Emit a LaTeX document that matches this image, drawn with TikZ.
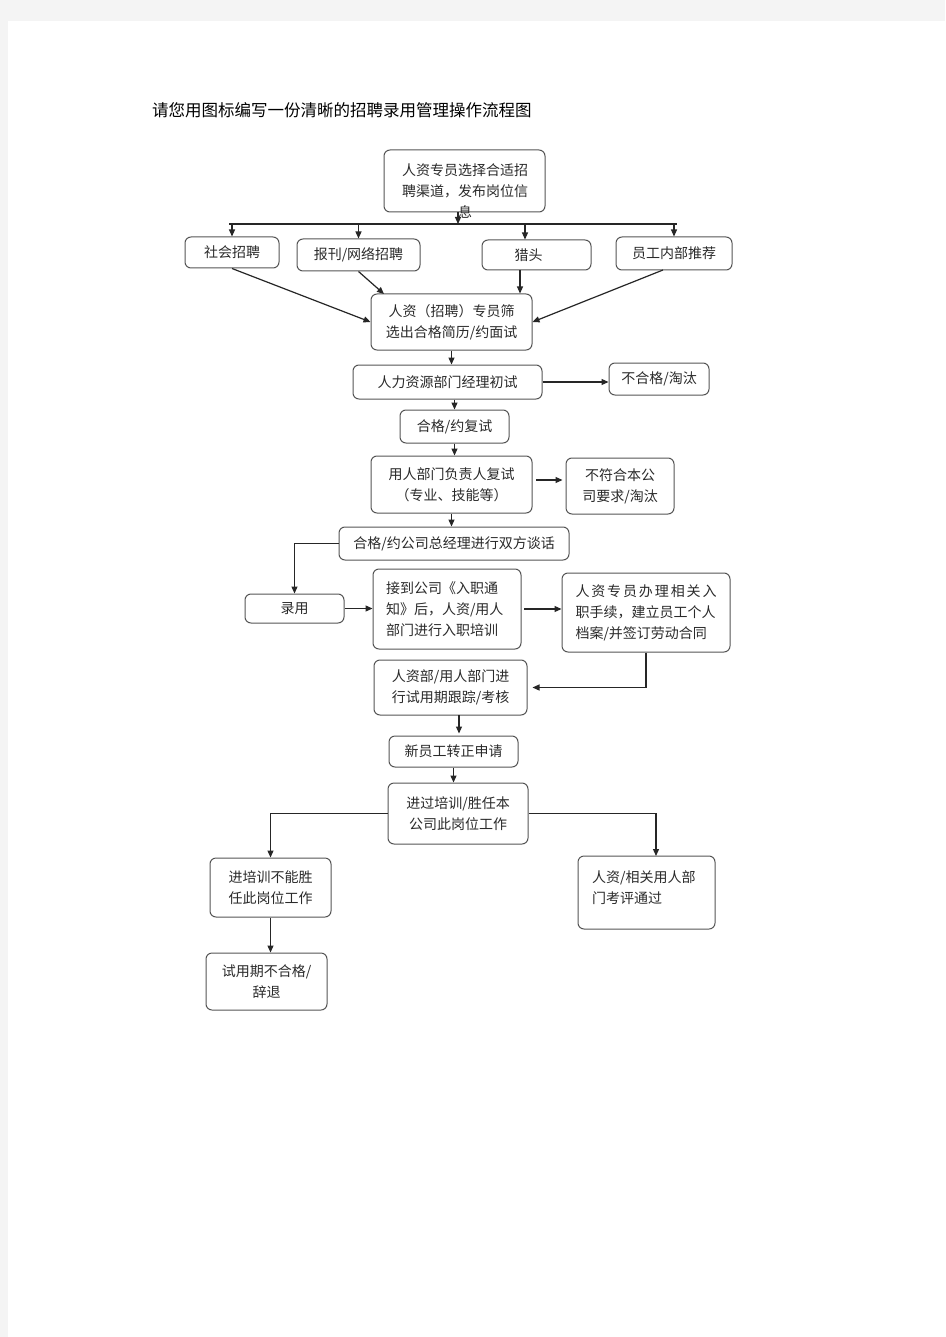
\documentclass[tikz,border=0pt]{standalone}
\usepackage{fontspec}
\setmainfont{Noto Sans CJK SC}
\usetikzlibrary{arrows.meta}
\definecolor{pagegray}{HTML}{F4F4F4}
\definecolor{boxline}{HTML}{555555}
\definecolor{txt}{HTML}{2A2A2A}
\begin{document}
\begin{tikzpicture}[x=1pt,y=-1pt,
  box/.style={draw=boxline, line width=1pt, rounded corners=6pt, inner sep=0pt, align=center, text=txt, font=\fontsize{14}{21}\selectfont},
  sz/.style 2 args={minimum width=#1, minimum height=#2},
  lbl/.style={inner sep=0pt, text=txt, font=\fontsize{14}{21}\selectfont},
  arr/.style={draw=black!85, line width=1.2pt, -{Triangle[length=7pt,width=6pt]}},
  ln/.style={draw=black!85, line width=1.2pt}]
\fill[pagegray] (0,0) rectangle (945,1337);
\fill[white] (8,21) rectangle (945,1337);
\useasboundingbox (0,0) rectangle (945,1337);

\node[anchor=west, inner sep=0pt, font=\fontsize{16.5}{18}\selectfont] (title) at (152,110) {请您用图标编写一份清晰的招聘录用管理操作流程图};

% boxes
\node[box, sz={161pt}{62pt}] (B1) at (464.5,181) {};
\node[lbl, align=center] (B1t) at (465,191) {人资专员选择合适招\\聘渠道，发布岗位信\\息};
\node[box, sz={94pt}{31pt}] (R1) at (232,252.5) {社会招聘};
\node[box, sz={123pt}{32pt}] (R2) at (358.5,255) {报刊/网络招聘};
\node[box, sz={109pt}{30pt}] (R3) at (536.5,255) {\hspace*{-16pt}猎头};
\node[box, sz={116pt}{33pt}] (R4) at (674,253.5) {员工内部推荐};
\node[box, sz={161pt}{56pt}] (B3) at (451.5,322) {人资（招聘）专员筛\\选出合格简历/约面试};
\node[box, sz={189pt}{34pt}] (B4) at (447.5,382) {人力资源部门经理初试};
\node[box, sz={100pt}{32pt}] (N1) at (659,379) {不合格/淘汰};
\node[box, sz={109pt}{33pt}] (B5) at (454.5,426.5) {合格/约复试};
\node[box, sz={161pt}{57pt}] (B6) at (451.5,484.5) {用人部门负责人复试\\（专业、技能等）};
\node[box, sz={108pt}{56pt}] (N2) at (620,486) {不符合本公\\司要求/淘汰};
\node[box, sz={230pt}{33pt}] (B7) at (454,543.5) {合格/约公司总经理进行双方谈话};
\node[box, sz={99pt}{29pt}] (L1) at (294.5,608.5) {录用};
\node[box, sz={148pt}{80pt}, text width=122pt, align=left] (B8) at (447,609) {接到公司《入职通\\知》后，人资/用人\\部门进行入职培训};
\node[box, sz={168pt}{79pt}, text width=141pt, align=left] (B9) at (646,612.5) {\makebox[141pt][s]{人\hfill 资\hfill 专\hfill 员\hfill 办\hfill 理\hfill 相\hfill 关\hfill 入}\\职手续，建立员工个人\\档案/并签订劳动合同};
\node[box, sz={153pt}{55pt}] (B10) at (450.5,687.5) {人资部/用人部门进\\行试用期跟踪/考核};
\node[box, sz={129pt}{31pt}] (B11) at (453.5,751.5) {新员工转正申请};
\node[box, sz={140pt}{61pt}] (B12) at (458,813.5) {进过培训/胜任本\\公司此岗位工作};
\node[box, sz={121pt}{59pt}] (B13) at (270.5,887.5) {进培训不能胜\\任此岗位工作};
\node[box, sz={121pt}{57pt}] (B14) at (266.5,981.5) {试用期不合格/\\辞退};
\node[box, sz={137pt}{73pt}] (B15) at (646.5,892.5) {};
\node[lbl, anchor=north west, align=left] (B15t) at (592,870) {人资/相关用人部\\门考评通过};

% distribution line
\coordinate (hlL) at (229,224);
\coordinate (hlR) at (677,224);
\coordinate (b1o) at (458,212);
\draw[ln] (hlL) -- (hlR);
\draw[arr] (b1o) -- (b1o |- hlL);
\draw[arr] (R1.north |- hlL) -- (R1.north);
\draw[arr] (R2.north |- hlL) -- (R2.north);
\coordinate (r3s) at (525,224);
\draw[arr] (r3s) -- (r3s |- R3.north);
\draw[arr] (R4.north |- hlL) -- (R4.north);

% channels to screening
\coordinate (b3a) at (384,294);
\coordinate (r3b) at (520,270);
\coordinate (r4b) at (663,270);
\draw[arr] (R1.south) -- (B3.west);
\draw[arr] (R2.south) -- (b3a);
\draw[arr] (r3b) -- (r3b |- B3.north);
\draw[arr] (r4b) -- (B3.east);

% main flow
\draw[arr] (B3.south) -- (B3.south |- B4.north);
\draw[arr] (B4.east) -- (N1.west |- B4.east);
\draw[arr] (B5.north |- B4.south) -- (B5.north);
\draw[arr] (B5.south) -- (B5.south |- B6.north);
\coordinate (b6e) at (536,480);
\draw[arr, shorten >=3pt] (b6e) -- (b6e -| N2.west);
\draw[arr] (B6.south) -- (B6.south |- B7.north);
\draw[arr] (B7.west) -- (L1.north |- B7.west) -- (L1.north);
\draw[arr] (L1.east) -- (B8.west |- L1.east);
\coordinate (b8e) at (524,609);
\draw[arr] (b8e) -- (b8e -| B9.west);
\draw[arr, shorten >=5pt] (B9.south) -- (B9.south |- B10.east) -- (B10.east);
\coordinate (b10s) at (459,715);
\draw[arr, shorten >=2pt] (b10s) -- (b10s |- B11.north);
\draw[arr] (B11.south) -- (B11.south |- B12.north);
\draw[arr] (B12.west) -- (B13.north |- B12.west) -- (B13.north);
\coordinate (b15n) at (656,856);
\draw[arr] (B12.east) -- (b15n |- B12.east) -- (b15n);
\draw[arr] (B13.south) -- (B13.south |- B14.north);
\end{tikzpicture}
\end{document}
